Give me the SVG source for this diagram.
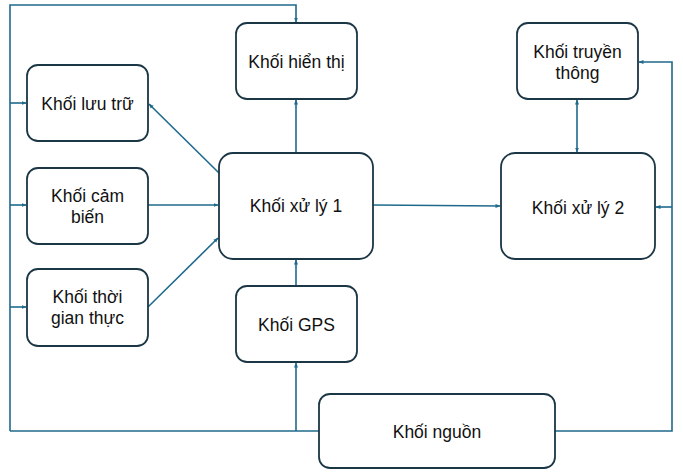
<svg xmlns="http://www.w3.org/2000/svg" width="683" height="475" viewBox="0 0 683 475">
<style>
.box{fill:#fff;stroke:#1b3645;stroke-width:1.8}
.t{font-family:"Liberation Sans",Arial,sans-serif;font-size:17.5px;fill:#111;text-anchor:middle}
.c{fill:none;stroke:#1f6a8c;stroke-width:1.6}
</style>
<defs>
<marker id="ah" viewBox="0 0 10 10" refX="9" refY="5" markerWidth="5" markerHeight="5" orient="auto-start-reverse" markerUnits="userSpaceOnUse">
<path d="M0,1 L10,5 L0,9 Z" fill="#1f6a8c"/>
</marker>
</defs>
<rect width="683" height="475" fill="#fff"/>
<g id="connectors">
<path class="c" d="M10,431 L10,5 L296,5 L296,22" marker-end="url(#ah)"/>
<path class="c" d="M10,103 L26,103" marker-end="url(#ah)"/>
<path class="c" d="M10,205 L26,205" marker-end="url(#ah)"/>
<path class="c" d="M10,307 L26,307" marker-end="url(#ah)"/>
<path class="c" d="M296,152 L296,100" marker-end="url(#ah)"/>
<path class="c" d="M219,173 L149,104" marker-end="url(#ah)"/>
<path class="c" d="M148,205 L218,205" marker-end="url(#ah)"/>
<path class="c" d="M148,307 L218,238" marker-end="url(#ah)"/>
<path class="c" d="M296,286 L296,260" marker-end="url(#ah)"/>
<path class="c" d="M10,431 L319,431"/>
<path class="c" d="M296,431 L296,363" marker-end="url(#ah)"/>
<path class="c" d="M373,205 L500,206" marker-end="url(#ah)"/>
<path class="c" d="M577,100 L577,152" marker-start="url(#ah)" marker-end="url(#ah)"/>
<path class="c" d="M555,431 L672,431 L672,62 L639,62" marker-end="url(#ah)"/>
<path class="c" d="M672,207 L656,207" marker-end="url(#ah)"/>
</g>
<g id="hienthi"><rect class="box" x="236" y="23" width="121" height="76" rx="11"/><text class="t" x="296.5" y="68">Khối hiển thị</text></g>
<g id="luutru"><rect class="box" x="27" y="65" width="121" height="76" rx="11"/><text class="t" x="87.5" y="110">Khối lưu trữ</text></g>
<g id="cambien"><rect class="box" x="27" y="168" width="121" height="76" rx="11"/><text class="t" x="87.5" y="202">Khối cảm</text><text class="t" x="87.5" y="223">biến</text></g>
<g id="thoigian"><rect class="box" x="27" y="269" width="121" height="77" rx="11"/><text class="t" x="87.5" y="303">Khối thời</text><text class="t" x="87.5" y="324">gian thực</text></g>
<g id="xuly1"><rect class="box" x="219" y="153" width="154" height="106" rx="14"/><text class="t" x="296" y="212">Khối xử lý 1</text></g>
<g id="gps"><rect class="box" x="236" y="286" width="121" height="76" rx="11"/><text class="t" x="296.5" y="331">Khối GPS</text></g>
<g id="truyenthong"><rect class="box" x="517" y="23" width="121" height="76" rx="11"/><text class="t" x="577.5" y="58">Khối truyền</text><text class="t" x="577.5" y="79">thông</text></g>
<g id="xuly2"><rect class="box" x="501" y="153" width="154" height="106" rx="14"/><text class="t" x="578" y="214">Khối xử lý 2</text></g>
<g id="nguon"><rect class="box" x="319" y="394" width="236" height="74" rx="11"/><text class="t" x="437" y="438">Khối nguồn</text></g>
</svg>
